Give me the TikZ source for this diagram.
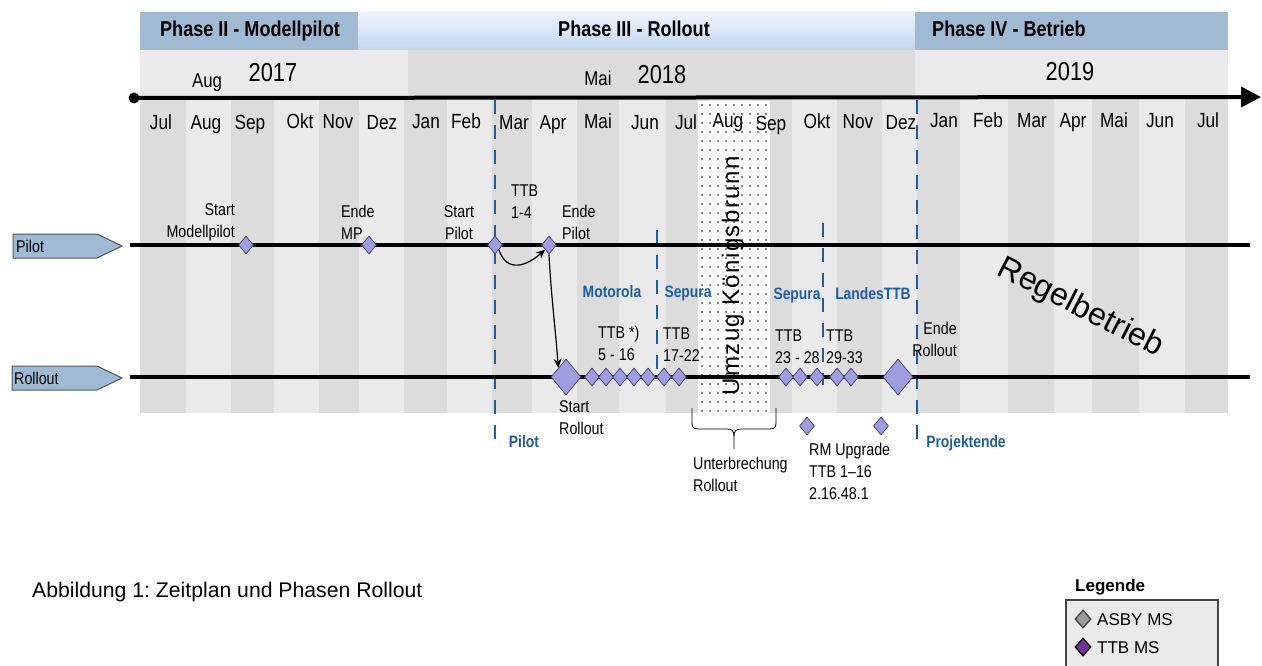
\documentclass[tikz,border=0pt]{standalone}
\usepackage{fontspec}
\setmainfont[FakeStretch=0.84]{Liberation Sans}
\newfontfamily\plainsans{Liberation Sans}
\newfontfamily\spacedsans[LetterSpace=6]{Liberation Sans}
\usetikzlibrary{shapes.geometric,arrows.meta}
\frenchspacing
\definecolor{sD}{HTML}{DCDCDC}
\definecolor{sL}{HTML}{EAEAEA}
\definecolor{pb}{HTML}{A1BAD3}
\definecolor{p3t}{HTML}{EEF4FB}
\definecolor{p3b}{HTML}{C3D7ED}
\definecolor{dblue}{HTML}{1F5D9E}
\definecolor{msf}{HTML}{9E9EDE}
\definecolor{msb}{HTML}{3E3E6E}
\definecolor{tagb}{HTML}{4A5866}
\definecolor{legbg}{HTML}{EAEAEA}
\definecolor{legb}{HTML}{444444}
\definecolor{asby}{HTML}{9A9A9A}
\definecolor{ttbms}{HTML}{7030A0}
\begin{document}
\begin{tikzpicture}[x=1pt,y=-1pt,
  ms/.style={diamond, draw=msb, fill=msf, line width=0.7pt, inner sep=0pt, minimum width=15pt, minimum height=18pt},
  bigms/.style={ms, minimum width=30pt, minimum height=36pt},
  lbl/.style={font=\fontsize{17}{22}\selectfont, inner sep=0pt, text depth=0pt, align=left, anchor=south west},
  bluelbl/.style={font=\bfseries\fontsize{16.5}{20}\selectfont, text=dblue, inner sep=0pt, anchor=base},
  month/.style={font=\fontsize{20.5}{24}\selectfont, inner sep=0pt, anchor=base},
  phase/.style={font=\bfseries\fontsize{21.5}{26}\selectfont, inner sep=0pt, anchor=base},
  vdash/.style={draw=dblue, line width=2.8pt, dash pattern=on 14pt off 11pt},
  arr/.style={-{Stealth[length=9pt,width=8pt]}, line width=1.2pt},
  tl/.style={line width=4.5pt},
  tagtext/.style={font=\fontsize{17}{20}\selectfont, inner sep=0pt, anchor=base west},
]
\useasboundingbox (0,0) rectangle (1262,666);
\fill[white] (0,0) rectangle (1262,666);
% phase header
\fill[pb] (140,12) rectangle (358,50);
\shade[top color=p3t, bottom color=p3b] (358,12) rectangle (915,50);
\fill[pb] (915,12) rectangle (1228,50);
\node[phase] (ph2) at (250,37) {Phase II - Modellpilot};
\node[phase] (ph3) at (634,37) {Phase III - Rollout};
\node[phase, anchor=base west] (ph4) at (932,37) {Phase IV - Betrieb};
% year row
\fill[sL] (140,50) rectangle (408,98);
\fill[sD] (408,50) rectangle (915,98);
\fill[sL] (915,50) rectangle (1228,98);
% stripes
\foreach \a/\b/\c in {140/186/sD,186/231/sL,231/274/sD,274/319/sL,319/359/sD,359/404/sL,404/447/sD,447/492/sL,492/532/sD,532/577/sL,577/619/sD,619/666/sL,666/710/sD,710/752/sL,752/792/sD,792/837/sL,837/882/sD,882/917/sL,917/960/sD,960/1008/sL,1008/1054/sD,1054/1092/sL,1092/1139/sD,1139/1185/sL,1185/1228/sD}
  \fill[\c] (\a,98) rectangle (\b,413);
% dotted interruption box
\fill[white] (698,101) rectangle (770,413);
\foreach \i in {0,...,8}
  \foreach \j in {0,...,34}
    \fill[black] (702+\i*8,105+\j*9) circle (0.95);
% year labels
\node[month, font=\fontsize{20}{24}\selectfont] (yaug) at (207,88) {Aug};
\node[month, font=\fontsize{26}{30}\selectfont] (y17) at (273,82) {2017};
\node[month, font=\fontsize{20}{24}\selectfont] (ymai) at (598,86) {Mai};
\node[month, font=\fontsize{26}{30}\selectfont] (y18) at (662,84) {2018};
\node[month, font=\fontsize{26}{30}\selectfont] (y19) at (1070,81) {2019};
% month labels
\foreach \x/\m/\yy [count=\k] in {161/Jul/130,206/Aug/130,250/Sep/130,300/Okt/129,338/Nov/129,382/Dez/130,426/Jan/129,466/Feb/129,514/Mar/130,553/Apr/130,598/Mai/129,645/Jun/130,686/Jul/130,728/Aug/128,771/Sep/131,817/Okt/129,858/Nov/129,901/Dez/130,944/Jan/128,988/Feb/128,1032/Mar/128,1073/Apr/128,1114/Mai/128,1160/Jun/128,1208/Jul/128}
  \node[month] (m\k) at (\x,\yy) {\m};
% blue dashed lines
\draw[vdash] (495,100) -- (495,447);
\draw[vdash] (657,230) -- (657,372);
\draw[vdash] (823,223) -- (823,385);
\draw[vdash] (917,100) -- (917,447);
% axis
\coordinate (ax0) at (134,98);
\coordinate (ax1) at (1261,97);
\fill[black] (ax0) circle (5.5);
\draw[line width=4pt, -{Triangle[length=20pt,width=20pt]}] (ax0) -- (ax1);
% tags
\fill[pb, draw=tagb, line width=1pt] (13,234) -- (97,234) -- (122,246) -- (97,258) -- (13,258) -- cycle;
\node[tagtext] (tpilot) at (16,252) {Pilot};
\fill[pb, draw=tagb, line width=1pt] (12,366) -- (97,366) -- (122,378) -- (97,390) -- (12,390) -- cycle;
\node[tagtext] (troll) at (14,384) {Rollout};
% timelines
\coordinate (pl0) at (130,245);
\coordinate (pl1) at (1250,245);
\coordinate (rl0) at (130,377);
\coordinate (rl1) at (1250,377);
\draw[tl] (pl0) -- (pl1);
\draw[tl] (rl0) -- (rl1);
% milestones pilot
\node[ms] (d1) at (246,245) {};
\node[ms] (d2) at (369,245) {};
\node[ms] (sp) at (495,245) {};
\node[ms] (ep) at (549,245) {};
% milestones rollout
\node[bigms] (sr) at (566,377) {};
\foreach \x [count=\k] in {592,606,620,634,648,664,679,786,800,817,837,851}
  \node[ms] (r\k) at (\x,377) {};
\node[bigms] (er) at (898,377) {};
\node[ms] (u1) at (807,426) {};
\node[ms] (u2) at (881,426) {};
% arrows
\draw[arr] (sp.south east) .. controls +(8,24) and +(-18,16) .. (ep.south west);
\draw[arr] (ep.south) .. controls +(2,40) and +(-3,-40) .. (sr.north west);
% brace
\draw[line width=0.8pt] (692,408) -- (692,423) .. controls (692,428) and (694,429) .. (699,429) -- (727,429) .. controls (732,429) and (734,431) .. (734,436) -- (734,449);
\draw[line width=0.8pt] (776,408) -- (776,423) .. controls (776,428) and (774,429) .. (769,429) -- (741,429) .. controls (736,429) and (734,431) .. (734,436);
% labels pilot
\node[lbl, align=right, anchor=south east] (l1) at (235,238) {Start\\Modellpilot};
\node[lbl] (l2) at (341,240) {Ende\\MP};
\node[lbl, align=center, anchor=south] (l3) at (459,240) {Start\\Pilot};
\node[lbl] (l4) at (511,219) {TTB\\1-4};
\node[lbl] (l5) at (562,240) {Ende\\Pilot};
% labels rollout
\node[lbl] (l6) at (598,361) {TTB *)\\5 - 16};
\node[lbl] (l7) at (663,362) {TTB\\17-22};
\node[lbl] (l8) at (775,364) {TTB\\23 - 28};
\node[lbl] (l9) at (826,364) {TTB\\29-33};
\node[lbl, align=right, anchor=south east] (l10) at (957,357) {Ende\\Rollout};
\node[lbl] (l11) at (559,435) {Start\\Rollout};
\node[lbl] (l12) at (693,492) {Unterbrechung\\Rollout};
\node[lbl] (l13) at (809,500) {RM Upgrade\\TTB 1–16\\2.16.48.1};
% blue labels
\node[bluelbl] (b1) at (612,297) {Motorola};
\node[bluelbl] (b2) at (688,297) {Sepura};
\node[bluelbl] (b3) at (797,299) {Sepura};
\node[bluelbl] (b4) at (873,299) {LandesTTB};
\node[bluelbl] (b5) at (524,447) {Pilot};
\node[bluelbl] (b6) at (966,447) {Projektende};
% big rotated texts
\node[rotate=90, font=\spacedsans\fontsize{24}{28}\selectfont, inner sep=0pt] (umz) at (733,276) {Umzug Königsbrunn};
\node[rotate=-27, font=\plainsans\fontsize{32}{38}\selectfont, inner sep=0pt] (rb) at (1080,308) {Regelbetrieb};
% caption
\node[font=\plainsans\fontsize{21.2}{25}\selectfont, anchor=base west, inner sep=0pt] (cap) at (32,597) {Abbildung 1: Zeitplan und Phasen Rollout};
% legend
\node[font=\plainsans\bfseries\fontsize{17}{20}\selectfont, anchor=base west, inner sep=0pt] (leg) at (1075,591) {Legende};
\fill[legbg] (1066,600) rectangle (1218,666);
\draw[line width=1.3pt, draw=legb] (1066,666) -- (1066,600) -- (1218,600) -- (1218,666);
\node[diamond, draw=legb, fill=asby, line width=1.3pt, inner sep=0pt, minimum width=16pt, minimum height=18pt] (lg1) at (1083,619) {};
\node[font=\plainsans\fontsize{17}{20}\selectfont, anchor=base west, inner sep=0pt] (lgt1) at (1097,625) {ASBY MS};
\node[diamond, draw=black, fill=ttbms, line width=1.3pt, inner sep=0pt, minimum width=16pt, minimum height=18pt] (lg2) at (1083,647) {};
\node[font=\plainsans\fontsize{17}{20}\selectfont, anchor=base west, inner sep=0pt] (lgt2) at (1097,653) {TTB MS};
\end{tikzpicture}
\end{document}
